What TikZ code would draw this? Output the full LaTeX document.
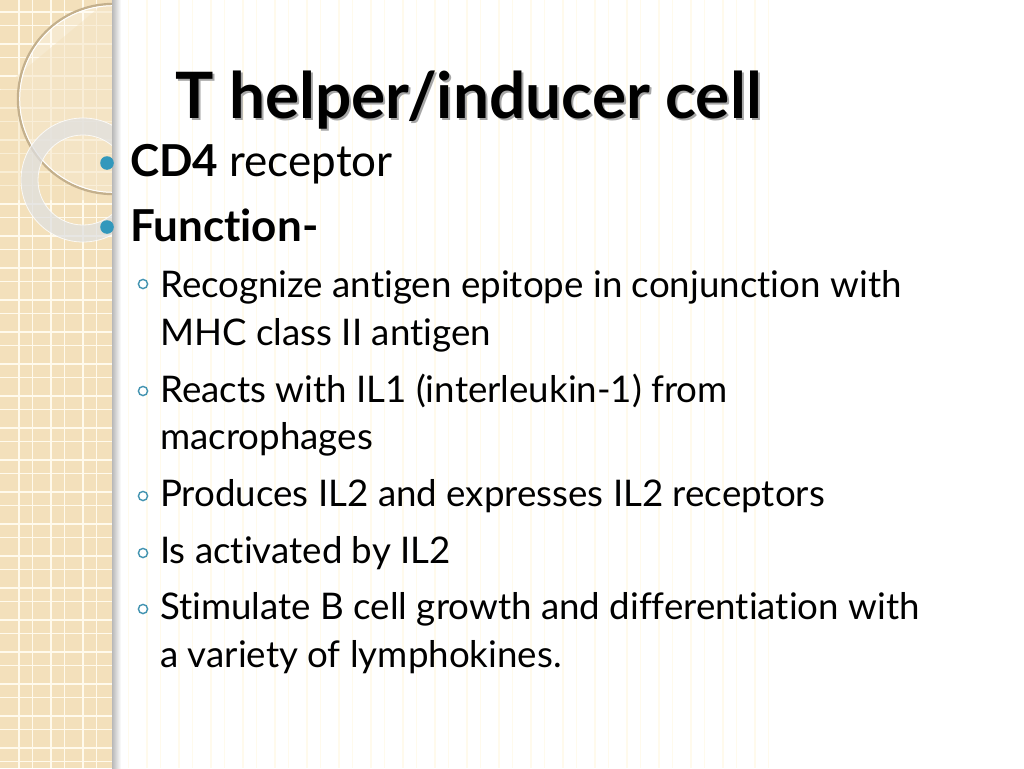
\documentclass[tikz,border=0pt]{standalone}
\usepackage{fontspec}
\setmainfont{Lato}[Ligatures=NoCommon]
\definecolor{stripbg}{RGB}{243,224,187}
\definecolor{gridln}{RGB}{255,250,236}
\definecolor{bullteal}{RGB}{50,152,188}
\definecolor{ringline}{RGB}{196,176,140}

\begin{document}
\begin{tikzpicture}[
  x=1pt, y=-1pt,
  title/.style={anchor=base west, inner sep=0pt, font=\fontsize{64}{64}\selectfont\bfseries},
  lvlone/.style={anchor=base west, inner sep=0pt, font=\fontsize{44}{44}\selectfont},
  lvltwo/.style={anchor=base west, inner sep=0pt, font=\fontsize{36.7}{36.7}\selectfont},
  dot/.style={fill=bullteal},
  subdot/.style={draw=bullteal!80!gray, line width=1.4pt}
]
\useasboundingbox (0,0) rectangle (1024,768);
\fill [white] (0,0) rectangle (1024,768);

% left strip
\fill [stripbg] (0,0) rectangle (112,768);
\foreach \g in {0,32,...,736} {
  \draw [gridln, line width=1.4pt] (\g+19,0) -- (\g+19,768);
  \draw [gridln, line width=1.4pt] (\g+32.5,0) -- (\g+32.5,768);
  \draw [gridln, line width=1.4pt] (0,\g+12) -- (112,\g+12);
  \draw [gridln, line width=1.4pt] (0,\g+25.5) -- (112,\g+25.5);
}
\begin{scope}
  \clip (0,0) rectangle (112,768);
  \fill [white, opacity=0.3] (113,99) circle [radius=96];
  \fill [stripbg, opacity=0.45] (0,90) -- (120,-10) -- (120,200) -- (0,200) -- cycle;
  \draw [ringline, line width=2.4pt] (113,99) circle [radius=95];
  \draw [white, line width=1pt] (113,99) circle [radius=93.3];
  \draw [black!12, line width=17pt, opacity=0.75] (83,180) circle [radius=53.5];
  \draw [white, line width=0.8pt, opacity=0.8] (83,180) circle [radius=62];
  \draw [white, line width=0.8pt, opacity=0.8] (83,180) circle [radius=45];
\end{scope}
\shade [left color=black!28, right color=white] (112,0) rectangle (121,768);

% title
\node [title, text=black!35] (shadow) at (177,120) {T helper/inducer cell};
\node [title] (head) at (175,118) {T helper/inducer cell};

% top level
\path [dot] (107,163) circle [radius=6.8];
\path [dot] (107,227) circle [radius=6.8];
\node [lvlone] (cd) at (130,176) {\textbf{CD4} receptor};
\node [lvlone] (func) at (130,241) {\textbf{Function-}};

% second level
\foreach \yy in {284,391,496,553,609}
  \draw [subdot] (143,\yy) circle [radius=4.6];
\node [lvltwo] (rec) at (160,297) {Recognize antigen epitope in conjunction with};
\node [lvltwo] (mhc) at (160,345) {MHC class II antigen};
\node [lvltwo] (rea) at (160,402) {Reacts with IL1 (interleukin-1) from};
\node [lvltwo] (mac) at (160,449) {macrophages};
\node [lvltwo] (pro) at (160,506) {Produces IL2 and expresses IL2 receptors};
\node [lvltwo] (act) at (160,563) {Is activated by IL2};
\node [lvltwo] (sti) at (160,619) {Stimulate B cell growth and differentiation with};
\node [lvltwo] (var) at (160,667) {a variety of lymphokines.};
\end{tikzpicture}
\end{document}
